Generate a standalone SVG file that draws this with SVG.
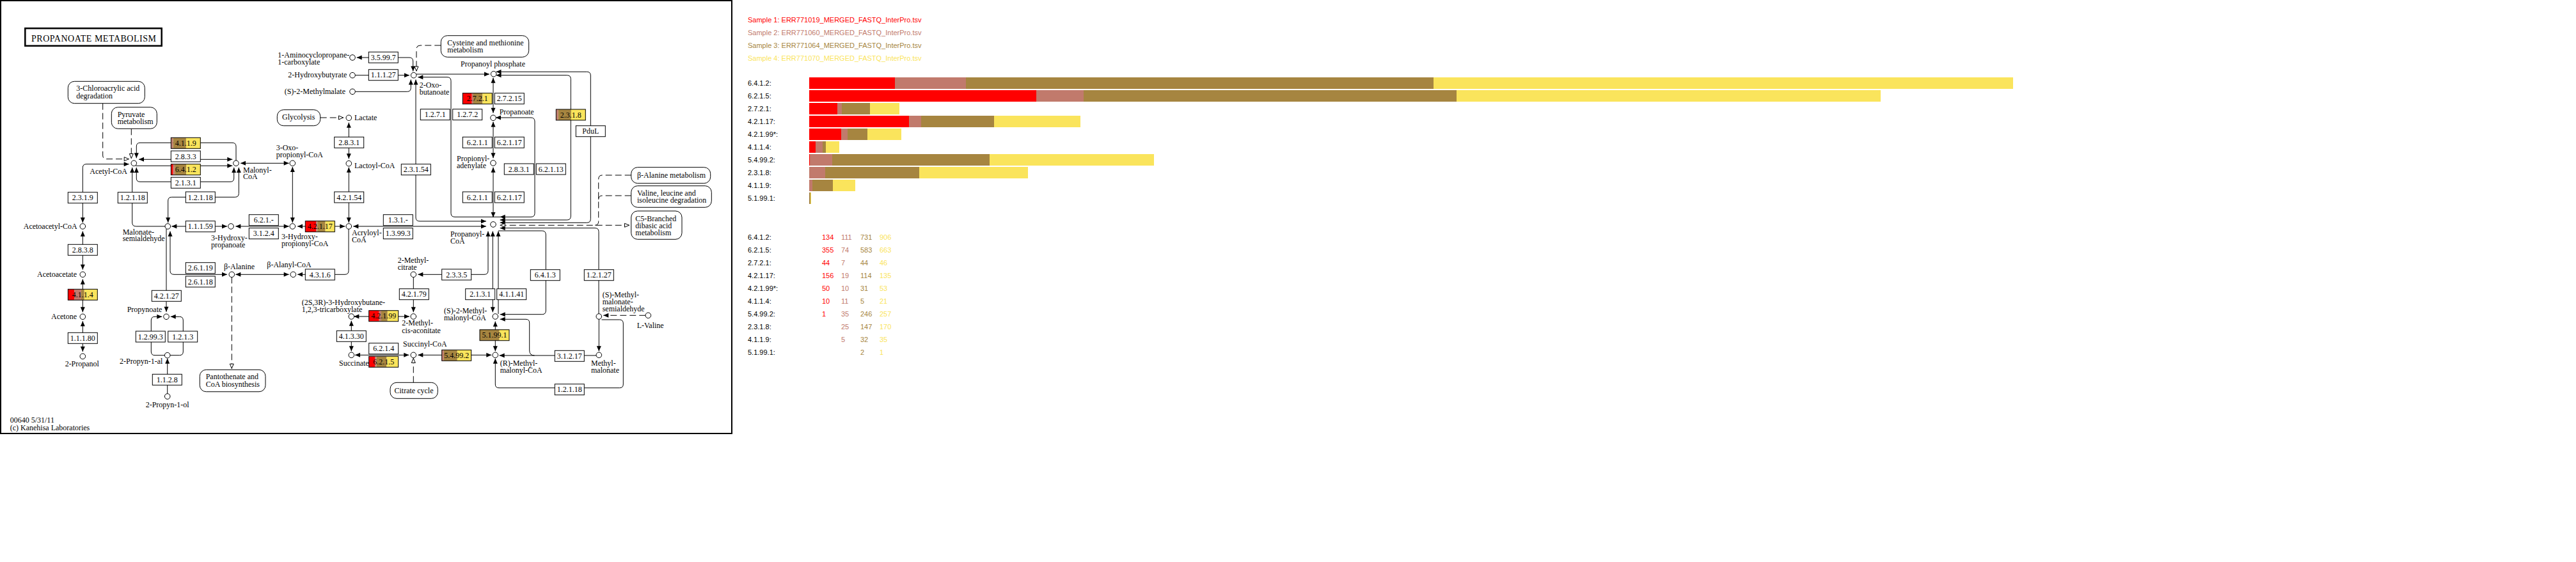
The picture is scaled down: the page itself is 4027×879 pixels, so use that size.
<svg xmlns="http://www.w3.org/2000/svg" width="4027" height="879" viewBox="0 0 4027 879">
<style>
.lb{font-family:"Liberation Serif",serif;font-size:12px;fill:#000}
.en rect{fill:#fff;stroke:#000;stroke-width:1}
.en rect.seg{stroke:none}
.en rect.ol{fill:none}
.en text{font-family:"Liberation Serif",serif;font-size:12px;text-anchor:middle}
.cp circle{fill:#fff;stroke:#000;stroke-width:1}
.mp rect{fill:#fff;stroke:#000;stroke-width:1}
.c{fill:none;stroke:#000;stroke-width:1}
.d{fill:none;stroke:#000;stroke-width:1;stroke-dasharray:10,5}
.b{marker-start:url(#a);marker-end:url(#a)}
.e{marker-end:url(#a)}
.s{marker-start:url(#a)}
.oe{marker-end:url(#o)}
.ob{marker-start:url(#o);marker-end:url(#o)}
.lg{font-family:"Liberation Sans",Arial,sans-serif;font-size:11px}
.r,.en rect.seg.r{fill:#ff0000}
.p,.en rect.seg.p{fill:#c17a6c}
.w,.en rect.seg.w{fill:#a68540}
.y,.en rect.seg.y{fill:#fae45c}
</style>
<defs>
<marker id="a" markerWidth="8" markerHeight="7" refX="8" refY="3.5" orient="auto-start-reverse" markerUnits="userSpaceOnUse" overflow="visible"><path d="M0,0L8,3.5L0,7z" fill="#000"/></marker>
<marker id="o" markerWidth="8" markerHeight="7" refX="8" refY="3.5" orient="auto-start-reverse" markerUnits="userSpaceOnUse" overflow="visible"><path d="M0.5,0.5L7.5,3.5L0.5,6.5z" fill="#fff" stroke="#000" stroke-width="1"/></marker>
</defs>
<rect x="0" y="0" width="4027" height="879" fill="#fff"/>
<rect x="1" y="1" width="1143" height="677" fill="none" stroke="#000" stroke-width="2"/>
<g id="title"><rect x="39.3" y="44.3" width="213.4" height="27.4" fill="#fff" stroke="#000" stroke-width="2.5"/><text x="49" y="64.5" font-family="Liberation Serif, serif" font-size="14" textLength="195" lengthAdjust="spacing">PROPANOATE METABOLISM</text></g>

<g id="connectors">
<path class="c e" d="M369,251 V229 Q369,223.3 363,223.3 H219 Q213.3,223.3 213.3,229 V247.3"/>
<path class="c b" d="M217,249.3 H363.3"/>
<path class="c e" d="M212,259.3 H363.3"/>
<path class="c b" d="M213.3,262 V279 Q213.3,284.3 219,284.3 H360 Q365.7,284.3 365.7,279 V262"/>
<path class="c s" d="M206.7,262 V348 Q206.7,354 212.5,354 H258"/>
<path class="c b" d="M373.3,262 V302.5 Q373.3,308.3 367.5,308.3 H268.5 Q262.7,308.3 262.7,314 V348.3"/>
<path class="c b" d="M201.7,256.7 H135 Q129.3,256.7 129.3,262.5 V348.3"/>
<path class="d oe" d="M160.7,161.7 V243 Q160.7,248.7 166.5,248.7 H201.7"/>
<path class="d oe" d="M205.3,201.3 V248"/>
<path class="c b" d="M376,255.3 H451.7"/>
<path class="c b" d="M457.3,261 V348.3"/>
<path class="c b" d="M268.3,354 H355"/>
<path class="c b" d="M368.3,354 H451.7"/>
<path class="c b" d="M465,354 H539.3"/>
<path class="c b" d="M552.3,354 H760"/>
<path class="c b" d="M650,124.5 V340 Q650,346 656,346 H760"/>
<path class="c e" d="M555,143.3 H636.5 Q642.3,143.3 642.3,137.5 V124.5"/>
<path class="c e" d="M555,117.7 H640"/>
<path class="c b" d="M557.7,90 H640 Q645.7,90 645.7,96 V111.5"/>
<path class="d oe" d="M689.3,71 H657 Q651,71 651,77 V111.5"/>
<path class="c e" d="M650.7,116 H765"/>
<path class="c b" d="M653.3,120.7 H699 Q705,120.7 705,126.5 V333.5 Q705,339.3 711,339.3 H830 Q836,339.3 836,333.5 V190 Q836,184 830,184 H775"/>
<polygon points="781.7,339.3 789.7,335.8 789.7,342.8" fill="#000"/>
<path class="c b" d="M775.5,117.7 H886.5 Q892.3,117.7 892.3,123.5 V338 Q892.3,344 886.5,344 H781.7"/>
<path class="c b" d="M775.5,112.3 H917.5 Q923.3,112.3 923.3,118 V342.5 Q923.3,348.3 917.5,348.3 H781.7"/>
<path class="c b" d="M771,121.7 V176.7"/>
<path class="c b" d="M771,190.5 V247.3"/>
<path class="c b" d="M771,261.7 V340"/>
<path class="d oe" d="M500.7,184 H537"/>
<path class="c b" d="M545.3,191.7 V248.3"/>
<path class="c b" d="M545.3,261.7 V348.3"/>
<path class="c e" d="M545,358 V423.5 Q545,429.3 539,429.3 H465"/>
<path class="c b" d="M368.3,429.3 H451.7"/>
<path class="c b" d="M266,361.7 V423.5 Q266,429.3 272,429.3 H355"/>
<path class="c e" d="M260,358 V487.7"/>
<path class="d oe" d="M362.3,433.3 V576.7"/>
<path class="c s" d="M253.3,495.3 H242 Q236.3,495.3 236.3,501 V550 Q236.3,555.7 242,555.7 H257.7"/>
<path class="c s" d="M266.7,495.3 H280.5 Q286.3,495.3 286.3,501 V550 Q286.3,555.7 280.5,555.7 H265.7"/>
<path class="c e" d="M261.7,616 V560.7"/>
<path class="c b" d="M129.3,361.7 V421.7"/>
<path class="c b" d="M129.3,436.7 V488.3"/>
<path class="c b" d="M129.3,502.3 V550"/>
<path class="c b" d="M763,361.7 V423.5 Q763,429.3 757,429.3 H653.3"/>
<path class="c e" d="M646.3,433.3 V488.3"/>
<path class="c b" d="M553.3,495 H640"/>
<path class="c b" d="M549.3,501.7 V549.3"/>
<path class="c b" d="M555,555.3 H639.3"/>
<path class="c b" d="M653.3,555.3 H768.3"/>
<path class="d oe" d="M646.3,598.3 V560"/>
<path class="c b" d="M774.3,502.7 V549.3"/>
<path class="c b" d="M770.3,361.7 V488.3"/>
<path class="c s" d="M779,361.7 V491"/>
<path class="c e" d="M779,361 H847.5 Q853.3,361 853.3,367 V486 Q853.3,491.7 847.5,491.7 H781.7"/>
<path class="c s" d="M781.7,499.3 H822 Q827.7,499.3 827.7,505 V548 Q827.7,556 835.5,556"/>
<path class="c s" d="M780.7,556 H932.3"/>
<path class="c e" d="M936.3,499 V549.3"/>
<path class="c s" d="M781.7,356.7 H930 Q936,356.7 936,362.5 V491"/>
<path class="d" d="M986.7,274 H941.5 Q935.7,274 935.7,280 V346.5 Q935.7,352.3 929.5,352.3"/>
<path class="d" d="M986.7,306 H941.5 Q935.7,306 935.7,312"/>
<path class="d ob" d="M781.7,352.3 H984"/>
<path class="d e" d="M1009.3,493.3 H943.3"/>
<path class="c s" d="M774.3,560.7 V601 Q774.3,606.7 780,606.7 H968.5 Q974.3,606.7 974.3,601 V506 Q974.3,500 968.5,500 H940.5"/>
</g>

<g id="maps" class="mp">
<g id="map_chloro"><rect x="106.3" y="127.3" width="120" height="34.4" rx="10"/><text class="lb" x="119.3" y="142.3">3-Chloroacrylic acid</text><text class="lb" x="119.3" y="154">degradation</text></g>
<g id="map_pyruvate"><rect x="174.3" y="167.7" width="71" height="33.6" rx="10"/><text class="lb" x="183.7" y="183.3">Pyruvate</text><text class="lb" x="183.7" y="194">metabolism</text></g>
<g id="map_cysteine"><rect x="689.3" y="55.7" width="137.4" height="33.6" rx="10"/><text class="lb" x="699.3" y="70.7">Cysteine and methionine</text><text class="lb" x="699.3" y="81.7">metabolism</text></g>
<g id="map_glycolysis"><rect x="433.3" y="171.7" width="67.4" height="25" rx="10"/><text class="lb" x="466.7" y="187.3" text-anchor="middle">Glycolysis</text></g>
<g id="map_balanine"><rect x="986.7" y="261.7" width="124" height="25" rx="10"/><text class="lb" x="996" y="278">β-Alanine metabolism</text></g>
<g id="map_valine"><rect x="986.7" y="290.7" width="125.6" height="33.6" rx="10"/><text class="lb" x="996" y="305.7">Valine, leucine and</text><text class="lb" x="996" y="316.7">isoleucine degradation</text></g>
<g id="map_c5"><rect x="986.7" y="330" width="79.3" height="44.3" rx="10"/><text class="lb" x="993.3" y="345.7">C5-Branched</text><text class="lb" x="993.3" y="356.7">dibasic acid</text><text class="lb" x="993.3" y="367.7">metabolism</text></g>
<g id="map_pantothenate"><rect x="312.3" y="578.3" width="102.7" height="34.4" rx="10"/><text class="lb" x="321.7" y="593.3">Pantothenate and</text><text class="lb" x="321.7" y="604.7">CoA biosynthesis</text></g>
<g id="map_citrate"><rect x="610" y="598.3" width="74.3" height="25" rx="10"/><text class="lb" x="647" y="614.7" text-anchor="middle">Citrate cycle</text></g>
</g>

<g id="compounds" class="cp">
<g id="c_acetylcoa"><circle cx="209.3" cy="255.3" r="4.3"/><text class="lb" x="199" y="272" text-anchor="end">Acetyl-CoA</text></g>
<g id="c_malonylcoa"><circle cx="369" cy="255.3" r="4.3"/><text class="lb" x="380" y="269.7">Malonyl-</text><text class="lb" x="380" y="280">CoA</text></g>
<g id="c_oxopropionylcoa"><circle cx="457.3" cy="255.3" r="4.3"/><text class="lb" x="431.7" y="234.7">3-Oxo-</text><text class="lb" x="431.7" y="245.7">propionyl-CoA</text></g>
<g id="c_acetoacetylcoa"><circle cx="129.3" cy="354" r="4.3"/><text class="lb" x="120.7" y="358" text-anchor="end">Acetoacetyl-CoA</text></g>
<g id="c_malonatesemi"><circle cx="262.3" cy="354" r="4.3"/><text class="lb" x="191.7" y="366.7">Malonate-</text><text class="lb" x="191.7" y="377.3">semialdehyde</text></g>
<g id="c_hydroxypropanoate"><circle cx="361" cy="354" r="4.3"/><text class="lb" x="330" y="375.7">3-Hydroxy-</text><text class="lb" x="330" y="386.7">propanoate</text></g>
<g id="c_hydroxypropionylcoa"><circle cx="457.3" cy="354" r="4.3"/><text class="lb" x="440" y="374">3-Hydroxy-</text><text class="lb" x="440" y="385">propionyl-CoA</text></g>
<g id="c_acryloylcoa"><circle cx="545.3" cy="354" r="4.3"/><text class="lb" x="550" y="368.3">Acryloyl-</text><text class="lb" x="550" y="379">CoA</text></g>
<g id="c_propanoylcoa"><circle cx="771" cy="351" r="4.3"/><text class="lb" x="704" y="369.7">Propanoyl-</text><text class="lb" x="704" y="380.7">CoA</text></g>
<g id="c_acetoacetate"><circle cx="129.3" cy="429.3" r="4.3"/><text class="lb" x="120" y="433.3" text-anchor="end">Acetoacetate</text></g>
<g id="c_balanine"><circle cx="362.3" cy="429.3" r="4.3"/><text class="lb" x="350" y="420.7">β-Alanine</text></g>
<g id="c_balanylcoa"><circle cx="458.3" cy="429.3" r="4.3"/><text class="lb" x="417.3" y="418">β-Alanyl-CoA</text></g>
<g id="c_methylcitrate"><circle cx="646.3" cy="429.3" r="4.3"/><text class="lb" x="621.7" y="410.7">2-Methyl-</text><text class="lb" x="621.7" y="421.7">citrate</text></g>
<g id="c_acetone"><circle cx="129.3" cy="495.3" r="4.3"/><text class="lb" x="120" y="499.3" text-anchor="end">Acetone</text></g>
<g id="c_propynoate"><circle cx="260" cy="495.3" r="4.3"/><text class="lb" x="253.3" y="487.7" text-anchor="end">Propynoate</text></g>
<g id="c_hydroxybutanetricarboxylate"><circle cx="549.3" cy="495" r="4.3"/><text class="lb" x="471.7" y="477.3">(2S,3R)-3-Hydroxybutane-</text><text class="lb" x="471.7" y="488">1,2,3-tricarboxylate</text></g>
<g id="c_methylcisaconitate"><circle cx="646.3" cy="495" r="4.3"/><text class="lb" x="628.3" y="509">2-Methyl-</text><text class="lb" x="628.3" y="520.7">cis-aconitate</text></g>
<g id="c_smethylmalonylcoa"><circle cx="774.3" cy="495" r="4.3"/><text class="lb" x="694" y="489.7">(S)-2-Methyl-</text><text class="lb" x="694" y="500.7">malonyl-CoA</text></g>
<g id="c_smmsa"><circle cx="936.3" cy="495" r="4.3"/><text class="lb" x="941.7" y="465">(S)-Methyl-</text><text class="lb" x="941.7" y="476.3">malonate-</text><text class="lb" x="941.7" y="487.3">semialdehyde</text></g>
<g id="c_lvaline"><circle cx="1013.3" cy="493.3" r="4.3"/><text class="lb" x="995.7" y="512.7">L-Valine</text></g>
<g id="c_propynal"><circle cx="261.7" cy="555.7" r="4.3"/><text class="lb" x="254.3" y="569" text-anchor="end">2-Propyn-1-al</text></g>
<g id="c_succinate"><circle cx="549.3" cy="555.3" r="4.3"/><text class="lb" x="530" y="571.7">Succinate</text></g>
<g id="c_succinylcoa"><circle cx="646.3" cy="555.3" r="4.3"/><text class="lb" x="630" y="542.3">Succinyl-CoA</text></g>
<g id="c_rmethylmalonylcoa"><circle cx="774.3" cy="555.3" r="4.3"/><text class="lb" x="781.7" y="571.7">(R)-Methyl-</text><text class="lb" x="781.7" y="583">malonyl-CoA</text></g>
<g id="c_methylmalonate"><circle cx="936.3" cy="555.3" r="4.3"/><text class="lb" x="924" y="571.7">Methyl-</text><text class="lb" x="924" y="583">malonate</text></g>
<g id="c_propanol"><circle cx="129.3" cy="557.3" r="4.3"/><text class="lb" x="128.3" y="573.3" text-anchor="middle">2-Propanol</text></g>
<g id="c_propynol"><circle cx="261.7" cy="620" r="4.3"/><text class="lb" x="261.7" y="636.7" text-anchor="middle">2-Propyn-1-ol</text></g>
<g id="c_acc"><circle cx="551" cy="90" r="4.3"/><text class="lb" x="434.3" y="90">1-Aminocyclopropane-</text><text class="lb" x="434.3" y="101">1-carboxylate</text></g>
<g id="c_hydroxybutyrate"><circle cx="551" cy="117.7" r="4.3"/><text class="lb" x="542.3" y="121.3" text-anchor="end">2-Hydroxybutyrate</text></g>
<g id="c_methylmalate"><circle cx="551" cy="143.3" r="4.3"/><text class="lb" x="540" y="147.3" text-anchor="end">(S)-2-Methylmalate</text></g>
<g id="c_oxobutanoate"><circle cx="646.7" cy="117.7" r="4.3"/><text class="lb" x="655.7" y="137.3">2-Oxo-</text><text class="lb" x="655.7" y="148">butanoate</text></g>
<g id="c_propanoylphosphate"><circle cx="771.7" cy="115.7" r="4.3"/><text class="lb" x="720" y="104">Propanoyl phosphate</text></g>
<g id="c_lactate"><circle cx="545.3" cy="184.3" r="4.3"/><text class="lb" x="554" y="188">Lactate</text></g>
<g id="c_propanoate"><circle cx="771" cy="184.3" r="4.3"/><text class="lb" x="780.7" y="179">Propanoate</text></g>
<g id="c_lactoylcoa"><circle cx="545.3" cy="255.7" r="4.3"/><text class="lb" x="554" y="263.3">Lactoyl-CoA</text></g>
<g id="c_propionyladenylate"><circle cx="771" cy="255" r="4.3"/><text class="lb" x="714" y="252.3">Propionyl-</text><text class="lb" x="714" y="263.3">adenylate</text></g>
</g>

<g id="enzymes">
<g id="ec_4119" class="en"><rect class="seg p" x="267.3" y="215.3" width="3.2" height="17"/><rect class="seg w" x="270.5" y="215.3" width="20.4" height="17"/><rect class="seg y" x="290.9" y="215.3" width="22.4" height="17"/><rect class="ol" x="267.3" y="215.3" width="46" height="17"/><text x="290.3" y="227.8">4.1.1.9</text></g>
<g id="ec_2833" class="en"><rect x="267.3" y="236" width="46" height="17"/><text x="290.3" y="248.5">2.8.3.3</text></g>
<g id="ec_6412" class="en"><rect class="seg r" x="267.3" y="256.7" width="3.3" height="17"/><rect class="seg p" x="270.6" y="256.7" width="2.7" height="17"/><rect class="seg w" x="273.3" y="256.7" width="17.9" height="17"/><rect class="seg y" x="291.2" y="256.7" width="22.1" height="17"/><rect class="ol" x="267.3" y="256.7" width="46" height="17"/><text x="290.3" y="269.2">6.4.1.2</text></g>
<g id="ec_2131a" class="en"><rect x="267.3" y="277.3" width="46" height="17"/><text x="290.3" y="289.8">2.1.3.1</text></g>
<g id="ec_2319" class="en"><rect x="106.3" y="300.7" width="46" height="17"/><text x="129.3" y="313.2">2.3.1.9</text></g>
<g id="ec_12118a" class="en"><rect x="184.3" y="300.7" width="46" height="17"/><text x="207.3" y="313.2">1.2.1.18</text></g>
<g id="ec_12118b" class="en"><rect x="290.3" y="300" width="46" height="17"/><text x="313.3" y="312.5">1.2.1.18</text></g>
<g id="ec_2838" class="en"><rect x="106.3" y="382.3" width="46" height="17"/><text x="129.3" y="394.8">2.8.3.8</text></g>
<g id="ec_4114" class="en"><rect class="seg r" x="106.3" y="452.3" width="9.8" height="17"/><rect class="seg p" x="116.1" y="452.3" width="10.8" height="17"/><rect class="seg w" x="126.9" y="452.3" width="4.9" height="17"/><rect class="seg y" x="131.8" y="452.3" width="20.5" height="17"/><rect class="ol" x="106.3" y="452.3" width="46" height="17"/><text x="129.3" y="464.8">4.1.1.4</text></g>
<g id="ec_11180" class="en"><rect x="106.3" y="520.3" width="46" height="17"/><text x="129.3" y="532.8">1.1.1.80</text></g>
<g id="ec_11159" class="en"><rect x="290.3" y="345.7" width="46" height="17"/><text x="313.3" y="358.2">1.1.1.59</text></g>
<g id="ec_26119" class="en"><rect x="290.3" y="410.7" width="46" height="17"/><text x="313.3" y="423.2">2.6.1.19</text></g>
<g id="ec_26118" class="en"><rect x="290.3" y="432" width="46" height="17"/><text x="313.3" y="444.5">2.6.1.18</text></g>
<g id="ec_42127" class="en"><rect x="237.3" y="454.3" width="46" height="17"/><text x="260.3" y="466.8">4.2.1.27</text></g>
<g id="ec_12993" class="en"><rect x="212.3" y="518" width="46" height="17"/><text x="235.3" y="530.5">1.2.99.3</text></g>
<g id="ec_1213" class="en"><rect x="262.7" y="518" width="46" height="17"/><text x="285.7" y="530.5">1.2.1.3</text></g>
<g id="ec_1128" class="en"><rect x="238.3" y="585.3" width="46" height="17"/><text x="261.3" y="597.8">1.1.2.8</text></g>
<g id="ec_35997" class="en"><rect x="576.3" y="81.3" width="46" height="17"/><text x="599.3" y="93.8">3.5.99.7</text></g>
<g id="ec_11127" class="en"><rect x="576.3" y="108.7" width="46" height="17"/><text x="599.3" y="121.2">1.1.1.27</text></g>
<g id="ec_1271" class="en"><rect x="657.3" y="170.7" width="46" height="17"/><text x="680.3" y="183.2">1.2.7.1</text></g>
<g id="ec_1272" class="en"><rect x="707.7" y="170.7" width="46" height="17"/><text x="730.7" y="183.2">1.2.7.2</text></g>
<g id="ec_2721" class="en"><rect class="seg r" x="723.3" y="145.7" width="14.4" height="17"/><rect class="seg p" x="737.7" y="145.7" width="2.3" height="17"/><rect class="seg w" x="740" y="145.7" width="14.4" height="17"/><rect class="seg y" x="754.4" y="145.7" width="14.9" height="17"/><rect class="ol" x="723.3" y="145.7" width="46" height="17"/><text x="746.3" y="158.2">2.7.2.1</text></g>
<g id="ec_27215" class="en"><rect x="773.3" y="145.7" width="46" height="17"/><text x="796.3" y="158.2">2.7.2.15</text></g>
<g id="ec_6211a" class="en"><rect x="723.3" y="214.3" width="46" height="17"/><text x="746.3" y="226.8">6.2.1.1</text></g>
<g id="ec_62117a" class="en"><rect x="773.3" y="214.3" width="46" height="17"/><text x="796.3" y="226.8">6.2.1.17</text></g>
<g id="ec_2831a" class="en"><rect x="522.7" y="214.3" width="46" height="17"/><text x="545.7" y="226.8">2.8.3.1</text></g>
<g id="ec_42154" class="en"><rect x="522.7" y="300" width="46" height="17"/><text x="545.7" y="312.5">4.2.1.54</text></g>
<g id="ec_23154" class="en"><rect x="627.3" y="256.7" width="46" height="17"/><text x="650.3" y="269.2">2.3.1.54</text></g>
<g id="ec_2831b" class="en"><rect x="788.3" y="256" width="46" height="17"/><text x="811.3" y="268.5">2.8.3.1</text></g>
<g id="ec_62113" class="en"><rect x="838.3" y="256" width="46" height="17"/><text x="861.3" y="268.5">6.2.1.13</text></g>
<g id="ec_6211b" class="en"><rect x="723.3" y="300" width="46" height="17"/><text x="746.3" y="312.5">6.2.1.1</text></g>
<g id="ec_62117b" class="en"><rect x="773.3" y="300" width="46" height="17"/><text x="796.3" y="312.5">6.2.1.17</text></g>
<g id="ec_2318" class="en"><rect class="seg p" x="869.3" y="171" width="3.4" height="17"/><rect class="seg w" x="872.7" y="171" width="19.8" height="17"/><rect class="seg y" x="892.5" y="171" width="22.8" height="17"/><rect class="ol" x="869.3" y="171" width="46" height="17"/><text x="892.3" y="183.5">2.3.1.8</text></g>
<g id="ec_pdul" class="en"><rect x="900.3" y="196.7" width="46" height="17"/><text x="923.3" y="209.2">PduL</text></g>
<g id="ec_621x" class="en"><rect x="389.3" y="335.7" width="46" height="17"/><text x="412.3" y="348.2">6.2.1.-</text></g>
<g id="ec_3124" class="en"><rect x="389.3" y="356.7" width="46" height="17"/><text x="412.3" y="369.2">3.1.2.4</text></g>
<g id="ec_42117" class="en"><rect class="seg r" x="477.3" y="345.7" width="16.9" height="17"/><rect class="seg p" x="494.2" y="345.7" width="2.1" height="17"/><rect class="seg w" x="496.3" y="345.7" width="12.4" height="17"/><rect class="seg y" x="508.7" y="345.7" width="14.6" height="17"/><rect class="ol" x="477.3" y="345.7" width="46" height="17"/><text x="500.3" y="358.2">4.2.1.17</text></g>
<g id="ec_131x" class="en"><rect x="599.3" y="335.7" width="46" height="17"/><text x="622.3" y="348.2">1.3.1.-</text></g>
<g id="ec_13993" class="en"><rect x="599.3" y="356.7" width="46" height="17"/><text x="622.3" y="369.2">1.3.99.3</text></g>
<g id="ec_4316" class="en"><rect x="477.3" y="421" width="46" height="17"/><text x="500.3" y="433.5">4.3.1.6</text></g>
<g id="ec_2335" class="en"><rect x="690.7" y="421" width="46" height="17"/><text x="713.7" y="433.5">2.3.3.5</text></g>
<g id="ec_42179" class="en"><rect x="624.3" y="451.7" width="46" height="17"/><text x="647.3" y="464.2">4.2.1.79</text></g>
<g id="ec_2131b" class="en"><rect x="727.7" y="451.7" width="46" height="17"/><text x="750.7" y="464.2">2.1.3.1</text></g>
<g id="ec_41141" class="en"><rect x="776.7" y="451.7" width="46" height="17"/><text x="799.7" y="464.2">4.1.1.41</text></g>
<g id="ec_6413" class="en"><rect x="829.3" y="421.7" width="46" height="17"/><text x="852.3" y="434.2">6.4.1.3</text></g>
<g id="ec_12127" class="en"><rect x="913.3" y="421.7" width="46" height="17"/><text x="936.3" y="434.2">1.2.1.27</text></g>
<g id="ec_42199" class="en"><rect class="seg r" x="576.7" y="485.7" width="16" height="17"/><rect class="seg p" x="592.7" y="485.7" width="3.2" height="17"/><rect class="seg w" x="595.9" y="485.7" width="9.9" height="17"/><rect class="seg y" x="605.8" y="485.7" width="16.9" height="17"/><rect class="ol" x="576.7" y="485.7" width="46" height="17"/><text x="599.7" y="498.2">4.2.1.99</text></g>
<g id="ec_41330" class="en"><rect x="526.3" y="517.3" width="46" height="17"/><text x="549.3" y="529.8">4.1.3.30</text></g>
<g id="ec_51991" class="en"><rect class="seg w" x="750" y="515.7" width="30.7" height="17"/><rect class="seg y" x="780.7" y="515.7" width="15.3" height="17"/><rect class="ol" x="750" y="515.7" width="46" height="17"/><text x="773" y="528.2">5.1.99.1</text></g>
<g id="ec_6214" class="en"><rect x="576.7" y="536.7" width="46" height="17"/><text x="599.7" y="549.2">6.2.1.4</text></g>
<g id="ec_6215" class="en"><rect class="seg r" x="576.7" y="557.3" width="9.8" height="17"/><rect class="seg p" x="586.5" y="557.3" width="2" height="17"/><rect class="seg w" x="588.5" y="557.3" width="16" height="17"/><rect class="seg y" x="604.5" y="557.3" width="18.2" height="17"/><rect class="ol" x="576.7" y="557.3" width="46" height="17"/><text x="599.7" y="569.8">6.2.1.5</text></g>
<g id="ec_54992" class="en"><rect class="seg p" x="690.8" y="547.3" width="3" height="17"/><rect class="seg w" x="693.8" y="547.3" width="21" height="17"/><rect class="seg y" x="714.8" y="547.3" width="21.9" height="17"/><rect class="ol" x="690.7" y="547.3" width="46" height="17"/><text x="713.7" y="559.8">5.4.99.2</text></g>
<g id="ec_31217" class="en"><rect x="867.3" y="548.3" width="46" height="17"/><text x="890.3" y="560.8">3.1.2.17</text></g>
<g id="ec_12118c" class="en"><rect x="867.3" y="600.7" width="46" height="17"/><text x="890.3" y="613.2">1.2.1.18</text></g>
</g>

<g id="footer"><text class="lb" x="15.7" y="661">00640 5/31/11</text><text class="lb" x="15.7" y="672.7">(c) Kanehisa Laboratories</text></g>

<g id="legend" class="lg">
<text x="1169" y="35" class="r">Sample 1: ERR771019_MERGED_FASTQ_InterPro.tsv</text>
<text x="1169" y="55" class="p">Sample 2: ERR771060_MERGED_FASTQ_InterPro.tsv</text>
<text x="1169" y="75" class="w">Sample 3: ERR771064_MERGED_FASTQ_InterPro.tsv</text>
<text x="1169" y="95" class="y">Sample 4: ERR771070_MERGED_FASTQ_InterPro.tsv</text>
</g>

<g id="bars" class="lg">
<text x="1169" y="134">6.4.1.2:</text>
<rect class="r" x="1265" y="121" width="134" height="18"/><rect class="p" x="1399" y="121" width="111" height="18"/><rect class="w" x="1510" y="121" width="731" height="18"/><rect class="y" x="2241" y="121" width="906" height="18"/>
<text x="1169" y="154">6.2.1.5:</text>
<rect class="r" x="1265" y="141" width="355" height="18"/><rect class="p" x="1620" y="141" width="74" height="18"/><rect class="w" x="1694" y="141" width="583" height="18"/><rect class="y" x="2277" y="141" width="663" height="18"/>
<text x="1169" y="174">2.7.2.1:</text>
<rect class="r" x="1265" y="161" width="44" height="18"/><rect class="p" x="1309" y="161" width="7" height="18"/><rect class="w" x="1316" y="161" width="44" height="18"/><rect class="y" x="1360" y="161" width="46" height="18"/>
<text x="1169" y="194">4.2.1.17:</text>
<rect class="r" x="1265" y="181" width="156" height="18"/><rect class="p" x="1421" y="181" width="19" height="18"/><rect class="w" x="1440" y="181" width="114" height="18"/><rect class="y" x="1554" y="181" width="135" height="18"/>
<text x="1169" y="214">4.2.1.99*:</text>
<rect class="r" x="1265" y="201" width="50" height="18"/><rect class="p" x="1315" y="201" width="10" height="18"/><rect class="w" x="1325" y="201" width="31" height="18"/><rect class="y" x="1356" y="201" width="53" height="18"/>
<text x="1169" y="234">4.1.1.4:</text>
<rect class="r" x="1265" y="221" width="10" height="18"/><rect class="p" x="1275" y="221" width="11" height="18"/><rect class="w" x="1286" y="221" width="5" height="18"/><rect class="y" x="1291" y="221" width="21" height="18"/>
<text x="1169" y="254">5.4.99.2:</text>
<rect class="r" x="1265" y="241" width="1" height="18"/><rect class="p" x="1266" y="241" width="35" height="18"/><rect class="w" x="1301" y="241" width="246" height="18"/><rect class="y" x="1547" y="241" width="257" height="18"/>
<text x="1169" y="274">2.3.1.8:</text>
<rect class="p" x="1265" y="261" width="25" height="18"/><rect class="w" x="1290" y="261" width="147" height="18"/><rect class="y" x="1437" y="261" width="170" height="18"/>
<text x="1169" y="294">4.1.1.9:</text>
<rect class="p" x="1265" y="281" width="5" height="18"/><rect class="w" x="1270" y="281" width="32" height="18"/><rect class="y" x="1302" y="281" width="35" height="18"/>
<text x="1169" y="314">5.1.99.1:</text>
<rect class="w" x="1265" y="301" width="2" height="18"/><rect class="y" x="1267" y="301" width="1" height="18"/>
</g>

<g id="table" class="lg">
<text x="1169" y="375">6.4.1.2:</text><text x="1285" y="375" class="r">134</text><text x="1315" y="375" class="p">111</text><text x="1345" y="375" class="w">731</text><text x="1375" y="375" class="y">906</text>
<text x="1169" y="395">6.2.1.5:</text><text x="1285" y="395" class="r">355</text><text x="1315" y="395" class="p">74</text><text x="1345" y="395" class="w">583</text><text x="1375" y="395" class="y">663</text>
<text x="1169" y="415">2.7.2.1:</text><text x="1285" y="415" class="r">44</text><text x="1315" y="415" class="p">7</text><text x="1345" y="415" class="w">44</text><text x="1375" y="415" class="y">46</text>
<text x="1169" y="435">4.2.1.17:</text><text x="1285" y="435" class="r">156</text><text x="1315" y="435" class="p">19</text><text x="1345" y="435" class="w">114</text><text x="1375" y="435" class="y">135</text>
<text x="1169" y="455">4.2.1.99*:</text><text x="1285" y="455" class="r">50</text><text x="1315" y="455" class="p">10</text><text x="1345" y="455" class="w">31</text><text x="1375" y="455" class="y">53</text>
<text x="1169" y="475">4.1.1.4:</text><text x="1285" y="475" class="r">10</text><text x="1315" y="475" class="p">11</text><text x="1345" y="475" class="w">5</text><text x="1375" y="475" class="y">21</text>
<text x="1169" y="495">5.4.99.2:</text><text x="1285" y="495" class="r">1</text><text x="1315" y="495" class="p">35</text><text x="1345" y="495" class="w">246</text><text x="1375" y="495" class="y">257</text>
<text x="1169" y="515">2.3.1.8:</text><text x="1315" y="515" class="p">25</text><text x="1345" y="515" class="w">147</text><text x="1375" y="515" class="y">170</text>
<text x="1169" y="535">4.1.1.9:</text><text x="1315" y="535" class="p">5</text><text x="1345" y="535" class="w">32</text><text x="1375" y="535" class="y">35</text>
<text x="1169" y="555">5.1.99.1:</text><text x="1345" y="555" class="w">2</text><text x="1375" y="555" class="y">1</text>
</g>
</svg>
